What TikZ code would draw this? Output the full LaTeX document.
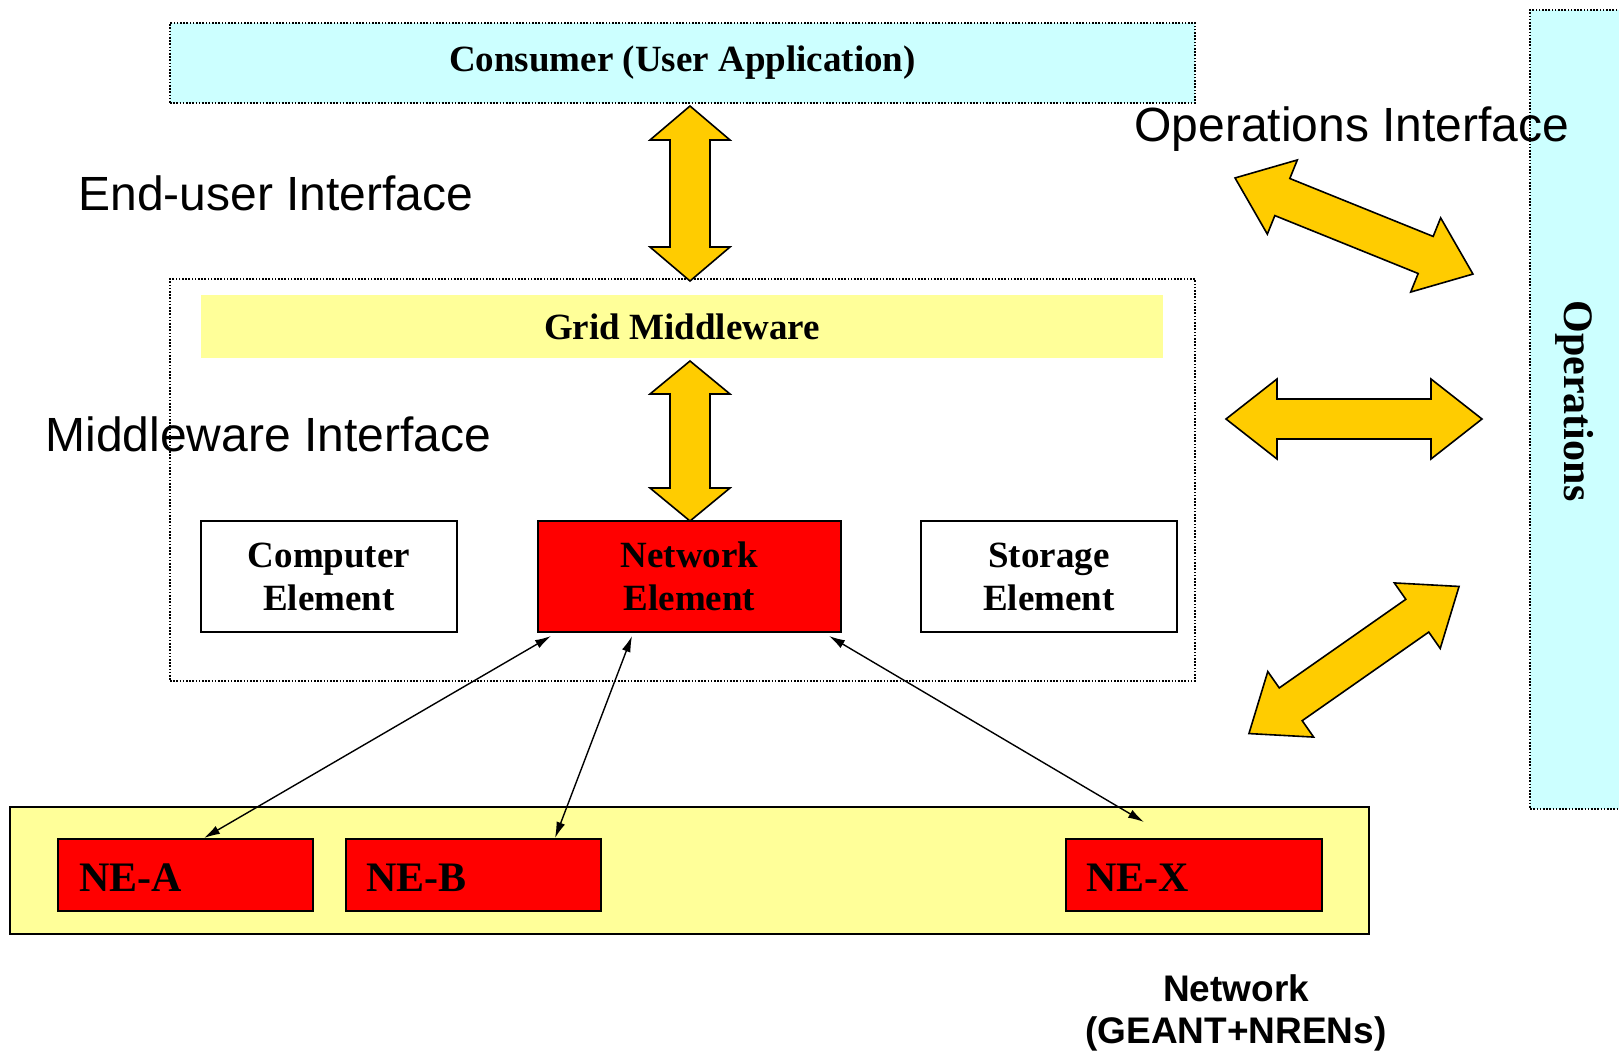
\documentclass[tikz,border=0pt]{standalone}
\usepackage{fontspec}
\setmainfont{Liberation Serif}
\setsansfont{Liberation Sans}
\usetikzlibrary{arrows.meta}

\definecolor{paleCyan}{HTML}{CCFFFF}
\definecolor{paleYellow}{HTML}{FFFF99}
\definecolor{amber}{HTML}{FFCC00}
\definecolor{neRed}{HTML}{FF0000}

% Block double arrow: centre x, centre y, angle, length, head length, head half-width, shaft half-width
\newcommand\fatarrow[7]{%
  \begin{scope}[shift={(#1,#2)},rotate=#3]
    \pgfmathsetmacro\fatTip{#4/2}%
    \pgfmathsetmacro\fatNeck{#4/2-#5}%
    \draw[fatarrowstyle] (-\fatTip,0) -- (-\fatNeck,#6) -- (-\fatNeck,#7) -- (\fatNeck,#7)
      -- (\fatNeck,#6) -- (\fatTip,0) -- (\fatNeck,-#6) -- (\fatNeck,-#7)
      -- (-\fatNeck,-#7) -- (-\fatNeck,-#6) -- cycle;
  \end{scope}}

\tikzset{
  fatarrowstyle/.style={fill=amber, draw=black, line width=0.8pt, line join=miter},
  dotframe/.style={draw=black, line width=0.6pt, dash pattern=on 0.8pt off 0.8pt, inner sep=0pt},
  serifbold/.style={font=\bfseries\fontsize{18.5pt}{21.5pt}\selectfont, align=center},
  elembox/.style={draw=black, line width=1pt, minimum width=128pt, minimum height=55.5pt,
    inner sep=0pt, serifbold},
  nebox/.style={draw=black, line width=1pt, fill=neRed, minimum width=127.5pt,
    minimum height=36pt, inner sep=0pt},
  netext/.style={font=\bfseries\fontsize{21pt}{24pt}\selectfont, inner sep=0pt, anchor=west},
  ifacelabel/.style={font=\sffamily\fontsize{24pt}{28pt}\selectfont, inner sep=0pt, anchor=west},
  linkarrow/.style={{Latex[length=8pt,width=4.5pt]}-{Latex[length=8pt,width=4.5pt]}, line width=0.7pt}
}

\begin{document}
\begin{tikzpicture}[x=0.5pt, y=-0.5pt]
  \useasboundingbox (0,0) rectangle (1619,1051);

  % Operations column on the right edge
  \fill[paleCyan] (1530,10) rectangle (1630,809);
  \draw[line width=0.6pt, dash pattern=on 0.8pt off 0.8pt] (1630,10) -- (1530,10) -- (1530,809) -- (1630,809);
  \node[serifbold, font=\bfseries\fontsize{21pt}{24pt}\selectfont, rotate=-90] (ops) at (1575,401) {Operations};

  % Consumer
  \node[dotframe, fill=paleCyan, minimum width=512.5pt, minimum height=40pt, serifbold] (consumer)
    at (682.5,63) {Consumer (User Application)};

  % Middleware frame
  \node[dotframe, fill=white, minimum width=512.5pt, minimum height=201pt] (mwframe) at (682.5,480) {};
  \node[fill=paleYellow, minimum width=481pt, minimum height=31.5pt, inner sep=0pt, serifbold] (grid)
    at (682,326.5) {Grid Middleware};

  \node[elembox, fill=white] (comp) at (329,576.5) {Computer\\Element};
  \node[elembox, fill=neRed, minimum width=151.5pt] (ne) at (689.5,576.5) {Network\\Element};
  \node[elembox, fill=white] (stor) at (1049,576.5) {Storage\\Element};

  % Network bar with its elements
  \node[draw=black, line width=1pt, fill=paleYellow, minimum width=679.5pt, minimum height=63.5pt,
    inner sep=0pt] (netbar) at (689.5,870.5) {};
  \node[nebox] (nea) at (185.5,875) {};
  \node[nebox] (neb) at (473.5,875) {};
  \node[nebox, minimum width=128pt] (nex) at (1194,875) {};
  \node[netext] (neatxt) at ([xshift=11pt,yshift=-1.5pt]nea.west) {NE-A};
  \node[netext] (nebtxt) at ([xshift=10.5pt,yshift=-1.5pt]neb.west) {NE-B};
  \node[netext] (nextxt) at ([xshift=10.5pt,yshift=-1.5pt]nex.west) {NE-X};

  % Interface labels
  \node[ifacelabel] (endlbl) at (78,193) {End-user Interface};
  \node[ifacelabel] (opslbl) at (1134,129) {Operations Interface};
  \node[ifacelabel] (mwlbl) at (45,434) {Middleware Interface};
  \node[font=\sffamily\bfseries\fontsize{18.5pt}{21pt}\selectfont, align=center, inner sep=0pt]
    (netlbl) at (1236,1013) {Network\\(GEANT+NRENs)};

  % Block arrows
  \fatarrow{690}{193.5}{90}{175}{34}{40}{20}
  \fatarrow{690}{441}{90}{160}{33}{40}{20}
  \fatarrow{1354}{226}{-22}{256.6}{51}{40}{20}
  \fatarrow{1354}{419}{0}{256}{51}{40}{20}
  \fatarrow{1354}{660}{35}{256.5}{51}{40}{20}

  % Links from the network elements to the grid network element
  \draw[linkarrow] ([xshift=9.25pt]nea.north) -- ([xshift=7pt,yshift=-1.5pt]ne.south west);
  \draw[linkarrow] ([xshift=40.75pt]neb.north) -- ([xshift=47.5pt,yshift=-1.5pt]ne.south west);
  \draw[linkarrow] ([xshift=-25pt,yshift=8pt]nex.north) -- ([xshift=-6.5pt,yshift=-1.5pt]ne.south east);
\end{tikzpicture}
\end{document}
